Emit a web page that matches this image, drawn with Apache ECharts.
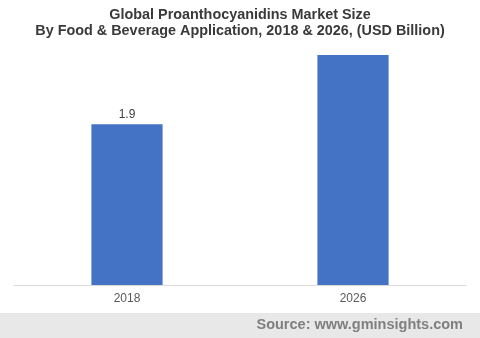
<!DOCTYPE html>
<html><head><meta charset="utf-8">
<script src="https://cdn.jsdelivr.net/npm/echarts@6/dist/echarts.min.js"></script>
<style>html,body{margin:0;padding:0;background:#fff}#c{width:480px;height:338px}</style>
</head><body><div id="c"></div>
<script>
const categories = ['2018', '2026'];
const values = [1.9, 2.72];
const labelShown = [true, false];

const chart = echarts.init(document.getElementById('c'));
chart.setOption({
  animation: false,
  title: {
    text: 'Global Proanthocyanidins Market Size\nBy Food & Beverage Application, 2018 & 2026, (USD Billion)',
    left: 'center', top: 2,
    textStyle: { fontFamily: 'Liberation Sans, Arial', fontSize: 14.4, fontWeight: 'bold', color: '#3a3a3a', lineHeight: 16 }
  },
  grid: { left: 14, right: 14, top: 55, bottom: 53 },
  xAxis: {
    type: 'category', data: categories,
    axisLine: { lineStyle: { color: '#d9d9d9', width: 1 } },
    axisTick: { show: false },
    axisLabel: { color: '#595959', fontFamily: 'Liberation Sans, Arial', fontSize: 12, margin: 8 }
  },
  yAxis: { type: 'value', min: 0, max: 2.72, show: false, splitLine: { show: false } },
  series: [{
    type: 'bar', barWidth: '31.5%',
    itemStyle: { color: '#4472c4' },
    data: values.map((v, i) => ({
      value: v,
      label: { show: labelShown[i], position: 'top', distance: 4, color: '#404040', fontFamily: 'Liberation Sans, Arial', fontSize: 12 }
    }))
  }],
  graphic: [
    { type: 'rect', left: 0, top: 313, shape: { width: 480, height: 25 }, style: { fill: '#e8e8e8' } },
    { type: 'text', right: 17, top: 317, style: { text: 'Source: www.gminsights.com', fill: '#7f7f7f', font: 'bold 14.5px "Liberation Sans", Arial' } }
  ]
});
</script></body></html>
